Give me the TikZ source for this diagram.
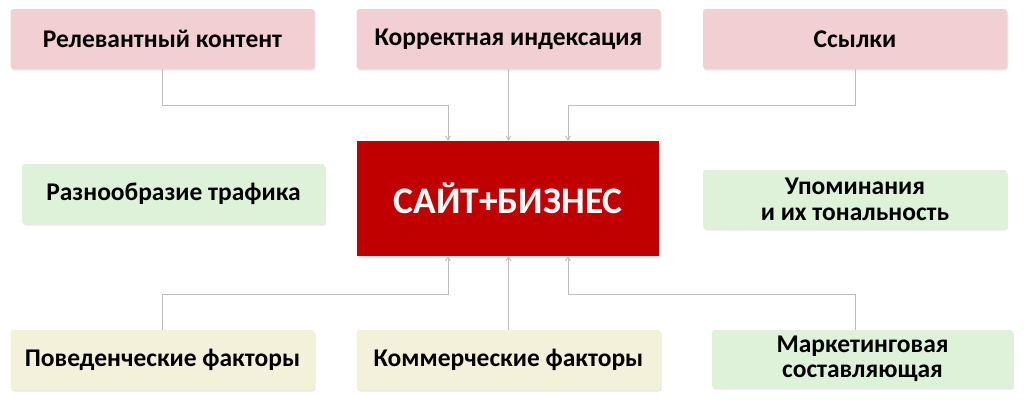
\documentclass[tikz,border=0pt]{standalone}
\usepackage{fontspec}
\setmainfont{Carlito}
\usepackage{xcolor}
\usetikzlibrary{arrows.meta,shadows,positioning}

\definecolor{pinkbox}{HTML}{F2CFD2}
\definecolor{greenbox}{HTML}{DEF2DA}
\definecolor{yellowbox}{HTML}{F4F1DA}
\definecolor{sitered}{HTML}{C00000}
\definecolor{linkgray}{HTML}{BDBDBD}

\begin{document}
\begin{tikzpicture}[x=1pt,y=-1pt,
  factor/.style={rounded corners=3pt,minimum width=304pt,minimum height=60pt,
    align=center,font=\fontsize{25.5}{25.5}\selectfont\bfseries,
    drop shadow={opacity=0.18,shadow xshift=1pt,shadow yshift=-1.5pt}},
  link/.style={linkgray,line width=0.9pt,-{Straight Barb[length=4pt,width=5pt]}}]
\useasboundingbox (0,0) rectangle (1024,413);

% Top row
\node[factor,fill=pinkbox] (rel) at (162.5,39) {Релевантный контент};
\node[factor,fill=pinkbox] (idx) at (508.5,39) {Корректная индексация};
\node[factor,fill=pinkbox] (links) at (855,39) {Ссылки};

% Middle row
\node[fill=sitered,text=white,minimum width=302pt,minimum height=115pt,
  font=\fontsize{37.5}{42}\selectfont\bfseries,
  drop shadow={opacity=0.18,shadow xshift=1pt,shadow yshift=-1.5pt}] (site) at (508,198.5) {САЙТ+БИЗНЕС};
\node[factor,fill=greenbox,minimum width=303pt] (traffic) at (173.5,194) {Разнообразие трафика};
\node[factor,fill=greenbox,minimum height=59pt] (mentions) at (855,199.5) {Упоминания\\и их тональность};

% Bottom row
\node[factor,fill=yellowbox] (behav) at (162.5,360) {Поведенческие факторы};
\node[factor,fill=yellowbox] (comm) at (508.5,360) {Коммерческие факторы};
\node[factor,fill=greenbox,minimum width=301pt,minimum height=58pt] (market) at (862.5,359) {Маркетинговая\\составляющая};

% Connectors
\draw[link] (rel.south) -- ++(0,36) -| ([xshift=-60pt]site.north);
\draw[link] (idx.south) -- (idx.south |- site.north);
\draw[link] (links.south) -- ++(0,36) -| ([xshift=60pt]site.north);
\draw[link] (behav.north) -- ++(0,-35) -| ([xshift=-60pt]site.south);
\draw[link] (comm.north) -- (comm.north |- site.south);
\draw[link] ([xshift=-7.5pt]market.north) -- ++(0,-35) -| ([xshift=60pt]site.south);
\end{tikzpicture}
\end{document}
